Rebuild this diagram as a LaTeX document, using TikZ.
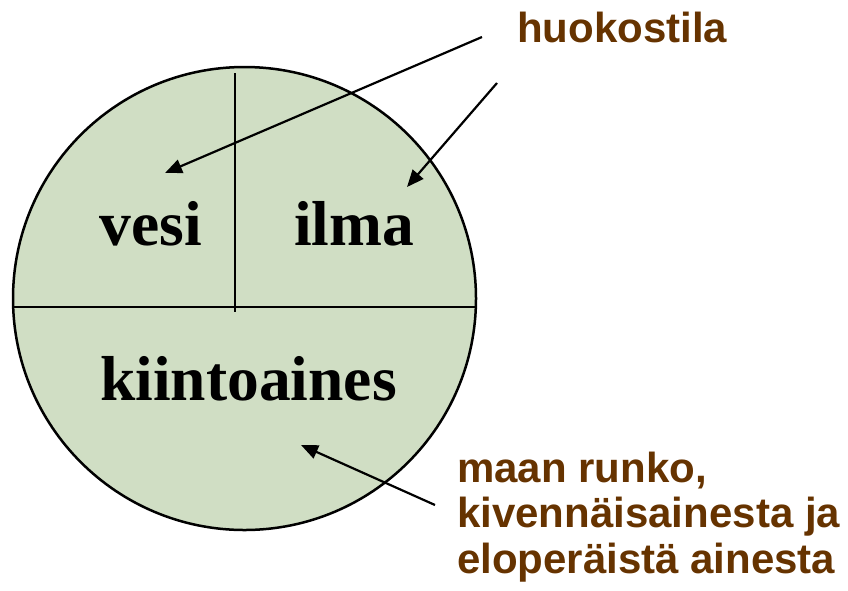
\documentclass[tikz,border=0pt]{standalone}
\usepackage{fontspec}
\setmainfont{Liberation Serif}
\newfontfamily\notefont{Liberation Sans}
\usepackage{xcolor}
\usetikzlibrary{arrows.meta}

\definecolor{soilgreen}{RGB}{208,222,196}
\definecolor{notebrown}{RGB}{102,51,0}

\begin{document}
\begin{tikzpicture}[x=1pt,y=-1pt,
  part/.style={font=\fontsize{63.5}{70}\selectfont\bfseries,anchor=base,inner sep=0pt},
  note/.style={font=\notefont\fontsize{42}{45.5}\selectfont\bfseries,text=notebrown,
    anchor=base west,inner sep=0pt,align=left},
  pointer/.style={line width=2.2pt,-{Triangle[length=17pt,width=14pt]}}]
  \useasboundingbox (0,0) rectangle (848,590);

  % the soil sample
  \node[circle,draw,line width=2.5pt,fill=soilgreen,minimum size=463pt,inner sep=0pt]
    (soil) at (244.5,298.5) {};
  \draw[line width=2.2pt] (13.2,306.7) -- (475.8,306.7);
  \draw[line width=2.2pt] (235,73) -- (235,312);

  \node[part] (vesi) at (151,245) {vesi};
  \node[part] (ilma) at (354,245) {ilma};
  \node[part] (kiinto) at (248.5,400) {kiintoaines};

  % labels (base = last line)
  \node[note] (huokos) at (517,42) {huokostila};
  \node[note] (runko) at (457,573) {maan runko,\\kivennäisainesta ja\\eloperäistä ainesta};

  \coordinate (h1) at (482,37);
  \coordinate (h2) at (497,83);
  \coordinate (r1) at (435,505);
  \coordinate (vesitip) at (165,173);
  \coordinate (ilmatip) at (407,187);
  \coordinate (kiintotip) at (301,445);

  \draw[pointer] (h1) -- (vesitip);
  \draw[pointer] (h2) -- (ilmatip);
  \draw[pointer] (r1) -- (kiintotip);
\end{tikzpicture}
\end{document}
